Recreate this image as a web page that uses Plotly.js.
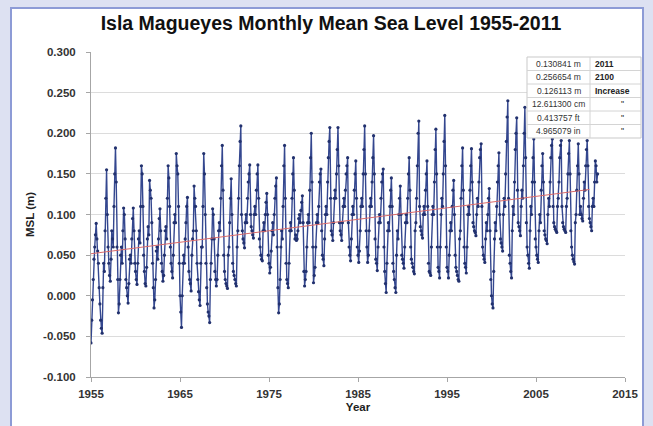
<!DOCTYPE html>
<html><head><meta charset="utf-8">
<script src="https://cdn.plot.ly/plotly-3.0.1.min.js"></script>
<style>
html,body{margin:0;padding:0;background:#dde1f2;width:653px;height:426px;overflow:hidden;}
#panel{position:absolute;left:10px;top:7px;width:634px;height:440px;background:#fff;border:2px solid #8d9bd6;box-sizing:border-box;}
#chart{position:absolute;left:0;top:0;width:653px;height:426px;}
</style></head><body>
<div id="panel"></div><div id="chart"></div>
<script>
// ---- data ----
const years = [1955,1956,1957,1958,1959,1960,1961,1962,1963,1964,1965,1966,1967,1968,1969,1970,1971,1972,1973,1974,1975,1976,1977,1978,1979,1980,1981,1982,1983,1984,1985,1986,1987,1988,1989,1990,1991,1992,1993,1994,1995,1996,1997,1998,1999,2000,2001,2002,2003,2004,2005,2006,2007,2008,2009,2010,2011];
// monthly mean sea level (m), Jan..Dec for each year
const mslMonthly = [
[-0.058,-0.030,-0.005,0.020,0.045,0.060,0.075,0.089,0.070,0.055,0.040,0.010],
[-0.010,-0.030,-0.040,-0.046,0.010,0.040,0.030,0.080,0.120,0.155,0.100,0.060],
[0.040,0.025,0.018,0.045,0.080,0.070,0.060,0.110,0.150,0.182,0.140,0.060],
[0.020,-0.021,-0.010,0.020,0.050,0.060,0.040,0.080,0.108,0.100,0.070,0.020],
[0.010,0.000,-0.009,0.015,0.045,0.050,0.040,0.070,0.095,0.108,0.080,0.040],
[0.030,0.020,0.014,0.040,0.070,0.080,0.065,0.110,0.160,0.150,0.110,0.050],
[0.030,0.015,0.012,0.035,0.070,0.085,0.075,0.142,0.130,0.120,0.090,0.040],
[0.010,-0.015,-0.005,0.020,0.055,0.060,0.045,0.070,0.095,0.107,0.080,0.040],
[0.030,0.018,0.025,0.050,0.080,0.085,0.070,0.120,0.160,0.145,0.110,0.060],
[0.040,0.030,0.022,0.050,0.090,0.100,0.090,0.175,0.160,0.150,0.110,0.040],
[0.000,-0.020,-0.039,0.000,0.040,0.050,0.040,0.070,0.090,0.110,0.121,0.060],
[0.030,0.020,0.015,0.006,0.050,0.070,0.080,0.135,0.120,0.110,0.080,0.040],
[0.020,0.005,-0.005,-0.012,0.040,0.060,0.060,0.110,0.175,0.150,0.100,0.040],
[0.010,-0.010,-0.020,-0.025,-0.033,0.020,0.040,0.070,0.107,0.100,0.070,0.030],
[0.020,0.012,0.020,0.050,0.080,0.090,0.080,0.120,0.160,0.185,0.130,0.050],
[0.030,0.020,0.015,0.012,0.009,0.050,0.060,0.090,0.120,0.144,0.100,0.040],
[0.030,0.025,0.020,0.015,0.012,0.060,0.080,0.120,0.160,0.190,0.209,0.100],
[0.080,0.070,0.065,0.059,0.090,0.100,0.090,0.120,0.140,0.150,0.161,0.100],
[0.085,0.080,0.075,0.071,0.100,0.110,0.100,0.130,0.150,0.161,0.120,0.070],
[0.060,0.050,0.045,0.043,0.080,0.090,0.080,0.100,0.115,0.126,0.100,0.050],
[0.040,0.028,0.035,0.055,0.080,0.090,0.075,0.100,0.120,0.135,0.145,0.060],
[0.010,-0.021,-0.010,0.020,0.060,0.080,0.070,0.110,0.160,0.185,0.120,0.040],
[0.020,0.015,0.010,0.040,0.080,0.090,0.080,0.120,0.150,0.170,0.130,0.070],
[0.075,0.068,0.070,0.080,0.095,0.100,0.090,0.105,0.115,0.123,0.090,0.030],
[0.012,0.020,0.030,0.060,0.090,0.100,0.090,0.130,0.170,0.200,0.140,0.060],
[0.016,0.025,0.035,0.060,0.090,0.100,0.090,0.110,0.140,0.150,0.156,0.080],
[0.050,0.045,0.037,0.070,0.100,0.110,0.100,0.140,0.170,0.190,0.207,0.120],
[0.080,0.075,0.068,0.090,0.120,0.130,0.120,0.150,0.180,0.207,0.160,0.090],
[0.080,0.075,0.068,0.090,0.110,0.120,0.110,0.130,0.150,0.160,0.170,0.090],
[0.060,0.050,0.043,0.070,0.100,0.110,0.100,0.130,0.150,0.166,0.120,0.060],
[0.050,0.041,0.055,0.080,0.110,0.120,0.110,0.150,0.180,0.209,0.150,0.080],
[0.060,0.041,0.050,0.080,0.110,0.120,0.110,0.140,0.170,0.197,0.150,0.070],
[0.045,0.040,0.031,0.060,0.090,0.100,0.090,0.120,0.140,0.150,0.156,0.060],
[0.030,0.015,0.004,0.040,0.080,0.090,0.080,0.110,0.130,0.145,0.110,0.040],
[0.030,0.020,0.010,0.004,0.050,0.080,0.070,0.100,0.120,0.135,0.100,0.050],
[0.045,0.040,0.034,0.060,0.090,0.100,0.090,0.120,0.150,0.170,0.130,0.060],
[0.045,0.040,0.035,0.030,0.027,0.080,0.090,0.120,0.160,0.200,0.215,0.110],
[0.085,0.080,0.075,0.071,0.100,0.110,0.100,0.130,0.150,0.166,0.110,0.040],
[0.030,0.028,0.025,0.060,0.100,0.110,0.100,0.140,0.180,0.205,0.150,0.060],
[0.035,0.030,0.022,0.060,0.100,0.120,0.110,0.150,0.190,0.222,0.160,0.060],
[0.035,0.030,0.022,0.050,0.080,0.090,0.080,0.110,0.130,0.142,0.100,0.050],
[0.035,0.030,0.025,0.020,0.018,0.070,0.080,0.120,0.160,0.182,0.130,0.060],
[0.040,0.035,0.028,0.060,0.100,0.110,0.100,0.130,0.160,0.181,0.140,0.090],
[0.085,0.080,0.078,0.074,0.100,0.120,0.110,0.140,0.170,0.180,0.187,0.110],
[0.060,0.050,0.045,0.041,0.070,0.090,0.080,0.100,0.120,0.132,0.080,0.020],
[0.000,-0.010,-0.015,0.030,0.070,0.090,0.080,0.110,0.140,0.160,0.176,0.100],
[0.070,0.065,0.060,0.055,0.100,0.120,0.110,0.150,0.190,0.220,0.240,0.120],
[0.050,0.040,0.030,0.022,0.080,0.110,0.100,0.140,0.180,0.200,0.219,0.130],
[0.090,0.085,0.080,0.074,0.110,0.130,0.120,0.160,0.200,0.232,0.170,0.090],
[0.060,0.050,0.040,0.034,0.080,0.110,0.100,0.140,0.170,0.193,0.140,0.070],
[0.060,0.050,0.045,0.041,0.080,0.100,0.090,0.130,0.160,0.175,0.140,0.080],
[0.075,0.070,0.068,0.064,0.100,0.120,0.110,0.140,0.170,0.185,0.193,0.110],
[0.090,0.085,0.082,0.080,0.078,0.110,0.120,0.140,0.170,0.185,0.191,0.110],
[0.090,0.085,0.082,0.080,0.078,0.110,0.120,0.150,0.175,0.191,0.150,0.080],
[0.060,0.050,0.045,0.042,0.039,0.090,0.100,0.130,0.160,0.187,0.150,0.100],
[0.110,0.100,0.095,0.092,0.120,0.140,0.130,0.160,0.180,0.191,0.160,0.110],
[0.095,0.090,0.085,0.080,0.110,0.120,0.110,0.140,0.166,0.160,0.140,0.150]
];
// linear trend end points (m)
const trendYears = [1955, 2011];
const trendMSL = [0.0517, 0.1308];
// tick labels
const xTickVals = [1955,1965,1975,1985,1995,2005,2015];
const xTickText = ["1955","1965","1975","1985","1995","2005","2015"];
const yTickVals = [-0.1,-0.05,0,0.05,0.1,0.15,0.2,0.25,0.3];
const yTickText = ["-0.100","-0.050","0.000","0.050","0.100","0.150","0.200","0.250","0.300"];
// projection table
const tableCol1 = ["0.130841 m","0.256654 m","0.126113 m","12.611300 cm","0.413757 ft","4.965079 in"];
const tableCol2 = ["2011","2100","Increase","\"","\"","\""];

// ---- build ----
const xs = [], ys = [];
years.forEach((yr, i) => {
  mslMonthly[i].forEach((v, m) => { xs.push(yr + m / 12); ys.push(v); });
});

const W = 653, H = 426;
const L = 91, R = 625, T = 52, B = 377;
const px = x => (x - L) / (R - L);
const py = y => (B - y) / (B - T);

const shapes = [];
const annotations = [];
const tL = 527, tM = 590, tR = 641, tTop = 57, rowH = 13.5;
const nRows = tableCol1.length;
shapes.push({type:'rect', xref:'paper', yref:'paper', x0:px(tL), x1:px(tR), y0:py(tTop), y1:py(tTop + nRows*rowH),
  fillcolor:'#ffffff', line:{color:'#c9c9c9', width:1}, layer:'above'});
for (let r = 1; r < nRows; r++) {
  shapes.push({type:'line', xref:'paper', yref:'paper', x0:px(tL), x1:px(tR), y0:py(tTop + r*rowH), y1:py(tTop + r*rowH),
    line:{color:'#d4d4d4', width:1}, layer:'above'});
}
shapes.push({type:'line', xref:'paper', yref:'paper', x0:px(tM), x1:px(tM), y0:py(tTop), y1:py(tTop + nRows*rowH),
  line:{color:'#d4d4d4', width:1}, layer:'above'});
tableCol1.forEach((t, r) => {
  annotations.push({xref:'paper', yref:'paper', x:px((tL+tM)/2), y:py(tTop + r*rowH + rowH/2), text:t, showarrow:false,
    xanchor:'center', yanchor:'middle', font:{size:8.5, color:'#333'}});
});
tableCol2.forEach((t, r) => {
  const quote = t === '"';
  annotations.push({xref:'paper', yref:'paper', x: quote ? px(622) : px(tM + 3), y:py(tTop + r*rowH + rowH/2), text:t, showarrow:false,
    xanchor: quote ? 'center' : 'left', yanchor:'middle', font:{size:8.5, color:'#222', weight: quote ? 'normal' : 'bold'}});
});

const data = [
  {type:'scatter', mode:'lines+markers', x:xs, y:ys, name:'MSL',
   line:{color:'#34478f', width:1.4}, marker:{size:3.2, color:'#22316e'}},
  {type:'scatter', mode:'lines', x:trendYears, y:trendMSL, name:'Trend',
   line:{color:'#d96a6a', width:1}}
];

const layout = {
  width:W, height:H,
  margin:{l:L, r:W-R, t:T, b:H-B, pad:0},
  paper_bgcolor:'rgba(0,0,0,0)', plot_bgcolor:'#ffffff',
  font:{family:'"Liberation Sans", Arial, sans-serif', color:'#333'},
  showlegend:false,
  title:{text:'Isla Magueyes Monthly Mean Sea Level 1955-2011', xref:'container', yref:'container',
    x:331/W, y:1-23/H, xanchor:'center', yanchor:'middle',
    font:{size:19.5, weight:'bold', color:'#111'}},
  xaxis:{range:[1955,2015], tickmode:'array', tickvals:xTickVals, ticktext:xTickText,
    showgrid:false, zeroline:false, showline:true, linecolor:'#a6a6a6', linewidth:1,
    ticks:'outside', ticklen:4, tickcolor:'#a6a6a6', ticklabelstandoff:2,
    tickfont:{size:11.5, weight:'bold', color:'#333'},
    title:{text:'Year', font:{size:11.5, weight:'bold', color:'#222'}, standoff:4}},
  yaxis:{range:[-0.1,0.3], tickmode:'array', tickvals:yTickVals, ticktext:yTickText,
    showgrid:true, gridcolor:'#dcdcdc', gridwidth:1, zeroline:false, showline:true, linecolor:'#a6a6a6', linewidth:1,
    ticks:'outside', ticklen:4, tickcolor:'#a6a6a6', ticklabelstandoff:8,
    tickfont:{size:11.5, weight:'bold', color:'#333'},
    title:{text:'MSL (m)', font:{size:11.5, weight:'bold', color:'#222'}, standoff:6}},
  shapes:shapes, annotations:annotations
};

Plotly.newPlot('chart', data, layout, {staticPlot:true, displayModeBar:false});
</script></body></html>
